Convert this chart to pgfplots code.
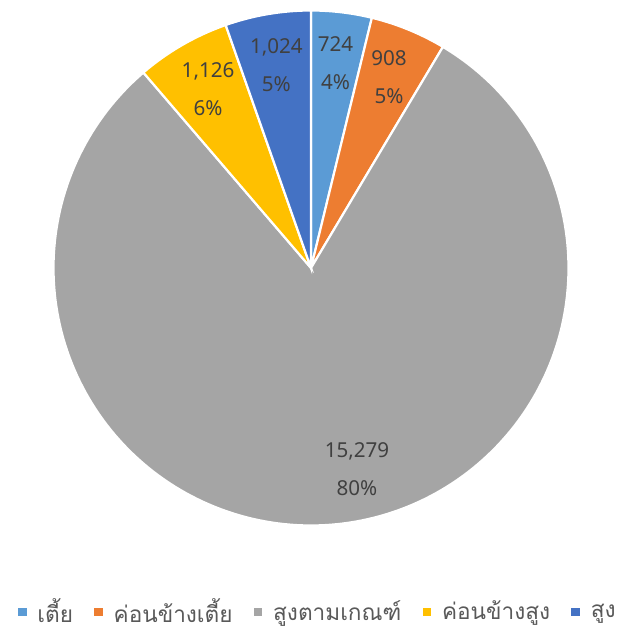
\documentclass[border=0pt]{standalone}
\usepackage{fontspec}
\setmainfont{Noto Sans}
\newfontfamily\thaifont[Script=Thai]{Loma}
\usepackage{pgfplots}
\usepackage{pgfplotstable}
\pgfplotsset{compat=1.18}
\definecolor{cA}{HTML}{5B9BD5}
\definecolor{cB}{HTML}{ED7D31}
\definecolor{cC}{HTML}{A5A5A5}
\definecolor{cD}{HTML}{FFC000}
\definecolor{cE}{HTML}{4472C4}
\definecolor{lbl}{HTML}{404040}
\definecolor{leg}{HTML}{595959}

\pgfplotstableread{
value
724
908
15279
1126
1024
}\piedata

\begin{document}
\begin{tikzpicture}
\pgfplotstablegetelem{0}{value}\of\piedata \edef\vA{\pgfplotsretval}
\pgfplotstablegetelem{1}{value}\of\piedata \edef\vB{\pgfplotsretval}
\pgfplotstablegetelem{2}{value}\of\piedata \edef\vC{\pgfplotsretval}
\pgfplotstablegetelem{3}{value}\of\piedata \edef\vD{\pgfplotsretval}
\pgfplotstablegetelem{4}{value}\of\piedata \edef\vE{\pgfplotsretval}
\pgfmathsetmacro\sA{\vA/1000}
\pgfmathsetmacro\sB{\vB/1000}
\pgfmathsetmacro\sC{\vC/1000}
\pgfmathsetmacro\sD{\vD/1000}
\pgfmathsetmacro\sE{\vE/1000}
\pgfmathsetmacro\stot{\sA+\sB+\sC+\sD+\sE}
\pgfmathsetmacro\aA{90}
\pgfmathsetmacro\aB{\aA-360*(\sA/\stot)}
\pgfmathsetmacro\aC{\aB-360*(\sB/\stot)}
\pgfmathsetmacro\aD{\aC-360*(\sC/\stot)}
\pgfmathsetmacro\aE{\aD-360*(\sD/\stot)}
\pgfmathsetmacro\aF{\aE-360*(\sE/\stot)}
\pgfmathtruncatemacro\pA{round(100*\sA/\stot)}
\pgfmathtruncatemacro\pB{round(100*\sB/\stot)}
\pgfmathtruncatemacro\pC{round(100*\sC/\stot)}
\pgfmathtruncatemacro\pD{round(100*\sD/\stot)}
\pgfmathtruncatemacro\pE{round(100*\sE/\stot)}
\pgfkeys{/pgf/number format/.cd, assume math mode=true, 1000 sep={,}, fixed, precision=0}
\begin{axis}[
  at={(155.5pt,182.5pt)}, anchor=center,
  x=128.75pt, y=128.75pt,
  xmin=-1, xmax=1, ymin=-1, ymax=1,
  hide axis, clip=false,
  legend columns=5,
  legend style={draw=none, fill=none, at={(0.513,-0.168)}, anchor=center,
    font=\thaifont\fontsize{11.3}{13}\selectfont, text=leg,
    /tikz/every odd column/.append style={column sep=2.3pt},
    /tikz/every even column/.append style={column sep=7.5pt}},
  legend image code/.code={\fill[#1] (0pt,-2.7pt) rectangle (5.4pt,2.7pt);},
  every axis plot/.append style={draw=white, line width=1.1pt},
]
\addplot[fill=cA, domain=\aB:\aA, samples=30, variable=\t] ({cos(\t)},{sin(\t)}) -- (axis cs:0,0) -- cycle;
\addlegendentry{เตี้ย}
\addplot[fill=cB, domain=\aC:\aB, samples=30, variable=\t] ({cos(\t)},{sin(\t)}) -- (axis cs:0,0) -- cycle;
\addlegendentry{ค่อนข้างเตี้ย}
\addplot[fill=cC, domain=\aD:\aC, samples=200, variable=\t] ({cos(\t)},{sin(\t)}) -- (axis cs:0,0) -- cycle;
\addlegendentry{สูงตามเกณฑ์}
\addplot[fill=cD, domain=\aE:\aD, samples=30, variable=\t] ({cos(\t)},{sin(\t)}) -- (axis cs:0,0) -- cycle;
\addlegendentry{ค่อนข้างสูง}
\addplot[fill=cE, domain=\aF:\aE, samples=30, variable=\t] ({cos(\t)},{sin(\t)}) -- (axis cs:0,0) -- cycle;
\addlegendentry{สูง}
\tikzset{lab/.style={align=center, text=lbl, font=\fontsize{10.3}{19}\selectfont}}
\pgfmathsetmacro\mA{(\aA+\aB)/2}
\pgfmathsetmacro\mB{(\aB+\aC)/2}
\pgfmathsetmacro\mC{(\aC+\aD)/2+8}
\pgfmathsetmacro\mD{(\aD+\aE)/2}
\pgfmathsetmacro\mE{(\aE+\aF)/2}
\node[lab] at (axis cs:{0.8*cos(\mA)},{0.8*sin(\mA)}) {\pgfmathprintnumber{\vA}\\\pA\%};
\node[lab] at (axis cs:{0.8*cos(\mB)},{0.8*sin(\mB)}) {\pgfmathprintnumber{\vB}\\\pB\%};
\node[lab] at (axis cs:{0.8*cos(\mC)},{0.8*sin(\mC)}) {\pgfmathprintnumber{\vC}\\\pC\%};
\node[lab] at (axis cs:{0.8*cos(\mD)},{0.8*sin(\mD)}) {\pgfmathprintnumber{\vD}\\\pD\%};
\node[lab] at (axis cs:{0.8*cos(\mE)},{0.8*sin(\mE)}) {\pgfmathprintnumber{\vE}\\\pE\%};
\end{axis}
\pgfresetboundingbox
\path (0,0) rectangle (310pt,316.5pt);
\end{tikzpicture}
\end{document}
